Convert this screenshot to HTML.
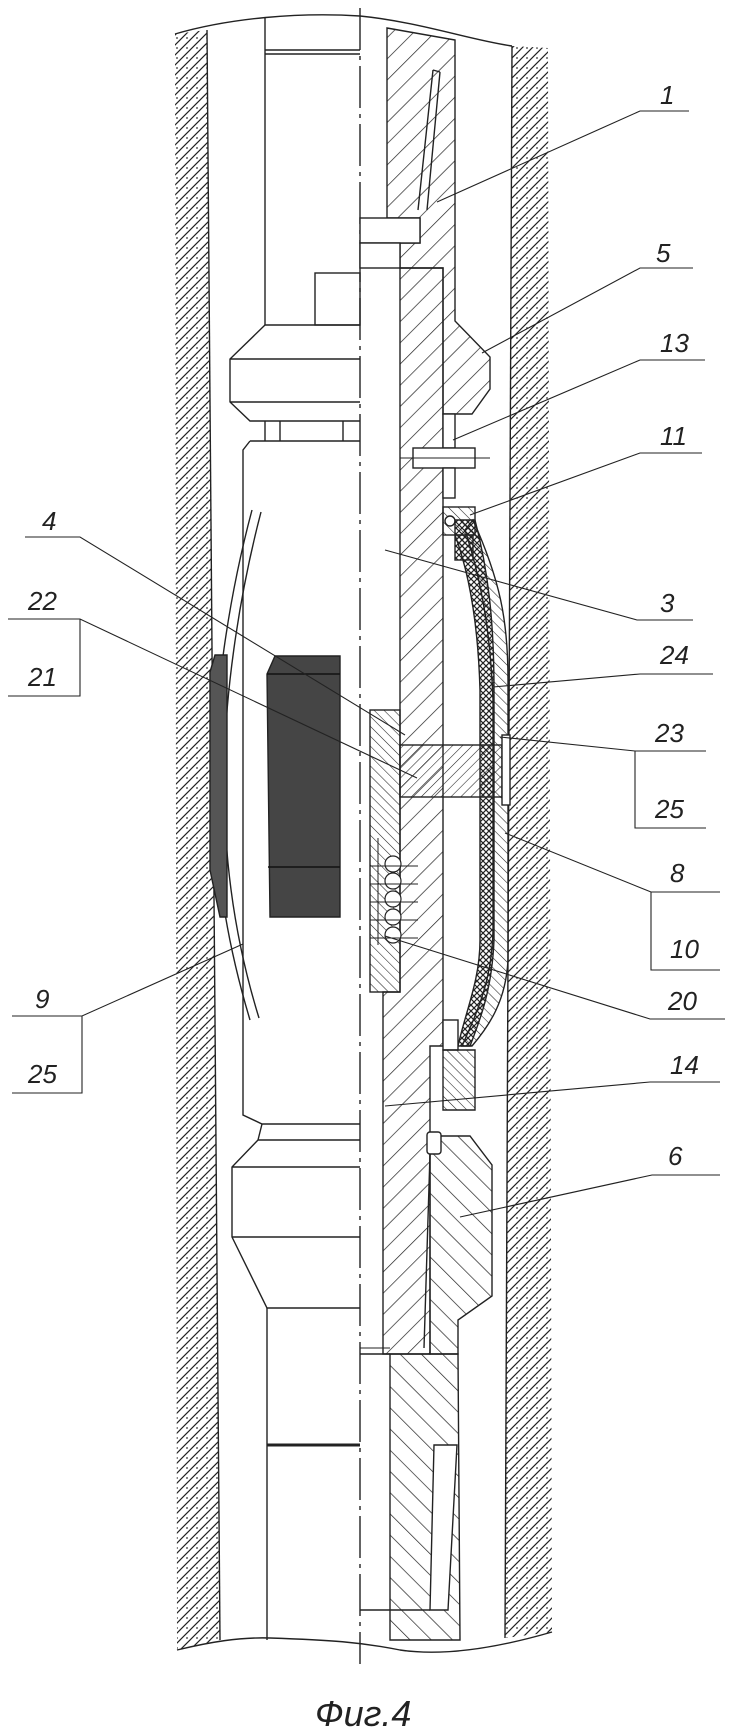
<!DOCTYPE html>
<html><head><meta charset="utf-8"><style>
html,body{margin:0;padding:0;background:#fff}
svg{display:block}
text{font-family:"Liberation Sans","DejaVu Sans",sans-serif;font-style:italic;fill:#222}
</style></head><body>
<svg width="736" height="1733" viewBox="0 0 736 1733" xmlns="http://www.w3.org/2000/svg">
<defs>
<pattern id="wall" patternUnits="userSpaceOnUse" width="10" height="10">
<line x1="0" y1="10" x2="10" y2="0" stroke="#222" stroke-width="1.2"/>
<line x1="-2" y1="2" x2="2" y2="-2" stroke="#222" stroke-width="1.2"/>
<line x1="8" y1="12" x2="12" y2="8" stroke="#222" stroke-width="1.2"/>
<circle cx="7" cy="8" r="0.9" fill="#333"/>
</pattern>
<pattern id="hb" patternUnits="userSpaceOnUse" width="15" height="15" patternTransform="rotate(45)">
<line x1="0" y1="0" x2="0" y2="15" stroke="#222" stroke-width="1.4"/></pattern>
<pattern id="hf" patternUnits="userSpaceOnUse" width="15" height="15" patternTransform="rotate(-45)">
<line x1="0" y1="0" x2="0" y2="15" stroke="#222" stroke-width="1.4"/></pattern>
<pattern id="hs" patternUnits="userSpaceOnUse" width="7" height="7" patternTransform="rotate(45)">
<line x1="0" y1="0" x2="0" y2="7" stroke="#222" stroke-width="1.1"/></pattern>
<pattern id="hs2" patternUnits="userSpaceOnUse" width="7" height="7" patternTransform="rotate(-45)">
<line x1="0" y1="0" x2="0" y2="7" stroke="#222" stroke-width="1.1"/></pattern>
<pattern id="xh" patternUnits="userSpaceOnUse" width="6" height="6">
<path d="M0 0L6 6M6 0L0 6" stroke="#222" stroke-width="1.2"/></pattern>
</defs>
<g stroke="#222" stroke-width="1.4" fill="none">
<!-- walls -->
<polygon points="175,34 207,30 220,1640 177,1650" fill="url(#wall)" stroke="none"/>
<line x1="207" y1="30" x2="220" y2="1640"/>
<polygon points="512,46 548,48 552,1632 505,1638" fill="url(#wall)" stroke="none"/>
<line x1="512" y1="46" x2="505" y2="1638"/>
<!-- top and bottom wavy edges -->
<path d="M175,34 C230,18 300,12 360,16 C420,22 470,40 512,46"/>
<path d="M177,1650 C210,1642 240,1637 270,1638 C330,1640 360,1642 400,1650 C440,1656 490,1650 552,1632"/>
<!-- centerline -->
<line x1="360" y1="8" x2="360" y2="1664" stroke-dasharray="42 6 4 6"/>
<!-- upper left tool -->
<path d="M265,18 L265,325 M265,50 L360,50 M265,54 L360,54"/>
<rect x="315" y="273" width="45" height="52"/>
<path d="M265,325 L360,325 M265,325 L230,359 L230,402 L250,421 L360,421 M230,359 L360,359 M230,402 L360,402"/>
<path d="M265,421 L265,441 M280,421 L280,441 M343,421 L343,441"/>
<path d="M250,441 L360,441 M250,441 L243,450 L243,1115 L262,1124 L360,1124"/>
<!-- bow spring -->
<path d="M252,510 C228,600 214,700 214,780 C214,880 232,960 250,1020"/>
<path d="M261,512 C238,600 224,700 224,780 C224,880 241,960 259,1018"/>
<!-- dark blocks -->
<path d="M275,656 L340,656 L340,917 L270,917 L267,674 Z" fill="#454545"/>
<path d="M267,674 L340,674 M268,867 L340,867" stroke="#111"/>
<path d="M215,655 L227,655 L227,917 L220,917 L210,870 L210,672 Z" fill="#555"/>
<!-- lower left tool -->
<path d="M262,1124 L258,1140 L360,1140 M258,1140 L232,1167 L232,1237 L267,1308 L360,1308 M232,1167 L360,1167 M232,1237 L360,1237"/>
<path d="M267,1308 L267,1640"/>
<line x1="267" y1="1445" x2="360" y2="1445" stroke-width="3"/>
<!-- upper sub 1 / 5 -->
<polygon points="387,28 455,40 455,321 490,357 490,389 472,414 443,414 443,268 400,268 400,243 420,243 420,218 387,218" fill="url(#hb)"/>
<path d="M433,70 L418,210 M440,72 L427,210 M433,70 L440,72" fill="#fff"/>
<rect x="360" y="218" width="60" height="25" fill="#fff"/>
<rect x="360" y="243" width="40" height="25" fill="#fff"/>
<!-- mandrel -->
<polygon points="400,268 443,268 443,1046 430,1046 430,1354 383,1354 383,992 400,992" fill="url(#hb)"/>
<!-- small parts 13, 11 -->
<rect x="443" y="414" width="12" height="34" fill="#fff"/>
<rect x="413" y="448" width="62" height="20" fill="#fff"/>
<line x1="400" y1="458" x2="490" y2="458" stroke-width="1"/>
<rect x="443" y="468" width="12" height="30" fill="#fff"/>
<rect x="443" y="507" width="32" height="28" fill="url(#hs2)"/>
<circle cx="450" cy="521" r="5" fill="#fff"/>
<rect x="455" y="535" width="18" height="25" fill="url(#xh)"/>
<!-- sleeve 8 (outer) and packer (crosshatch) -->
<path d="M473,520 C500,580 508,620 508,680 L508,960 C506,1000 490,1025 472,1046 L462,1046 C478,1010 492,980 493,930 L493,700 C490,620 478,570 465,530 Z" fill="url(#hs2)"/>
<path d="M455,520 L475,520 C488,570 494,620 494,690 L494,940 C492,990 480,1020 470,1046 L458,1046 C466,1010 480,980 480,940 L480,690 C478,620 468,570 455,535 Z" fill="url(#xh)"/>
<!-- pin 4 and sleeve 22 -->
<rect x="400" y="745" width="102" height="52" fill="url(#hs)"/>
<rect x="502" y="735" width="8" height="70" fill="#fff"/>
<rect x="370" y="710" width="30" height="282" fill="url(#hs2)"/>
<line x1="378" y1="838" x2="378" y2="945" stroke-width="1"/>
<g stroke-width="1.2" fill="#fff">
<circle cx="393" cy="864" r="8"/><circle cx="393" cy="881" r="8"/><circle cx="393" cy="899" r="8"/><circle cx="393" cy="917" r="8"/><circle cx="393" cy="935" r="8"/>
</g>
<path d="M370,866 L418,866 M370,884 L418,884 M370,902 L418,902 M370,920 L418,920 M370,938 L418,938" stroke-width="1"/>
<!-- ring near 14 -->
<rect x="443" y="1020" width="15" height="30" fill="#fff"/>
<polygon points="443,1050 475,1050 475,1110 443,1110" fill="url(#hs2)"/>
<!-- lower sub 6 -->
<polygon points="440,1136 470,1136 492,1165 492,1296 458,1320 458,1354 430,1354 430,1154" fill="url(#hf)"/>
<rect x="427" y="1132" width="14" height="22" rx="3" fill="#fff"/>
<line x1="430" y1="1154" x2="424" y2="1348"/>
<!-- bottom sub -->
<polygon points="390,1354 458,1354 460,1640 390,1640" fill="url(#hf)"/>
<polygon points="434,1445 457,1445 448,1610 430,1610" fill="#fff"/>
<path d="M360,1354 L390,1354 M360,1610 L430,1610"/>
<line x1="360" y1="1348" x2="390" y2="1348" stroke-width="1"/>
</g>
<!-- leaders -->
<g stroke="#222" stroke-width="1.1" fill="none">
<path d="M689,111 L640,111 L437,202"/>
<path d="M693,268 L640,268 L482,353"/>
<path d="M705,360 L640,360 L453,440"/>
<path d="M702,453 L640,453 L470,515"/>
<path d="M693,620 L637,620 L385,550"/>
<path d="M713,674 L640,674 L493,687"/>
<path d="M706,751 L635,751 L500,737 M635,751 L635,828 L706,828"/>
<path d="M720,892 L651,892 L505,833 M651,892 L651,970 L720,970"/>
<path d="M725,1019 L650,1019 L385,936"/>
<path d="M720,1082 L650,1082 L385,1106"/>
<path d="M720,1175 L652,1175 L460,1217"/>
<path d="M25,537 L80,537 L405,735"/>
<path d="M8,619 L80,619 L417,778 M80,619 L80,696 L8,696"/>
<path d="M12,1016 L82,1016 L243,944 M82,1016 L82,1093 L12,1093"/>
</g>
<g font-size="26">
<text x="660" y="104">1</text>
<text x="656" y="262">5</text>
<text x="660" y="352">13</text>
<text x="660" y="445">11</text>
<text x="660" y="612">3</text>
<text x="660" y="664">24</text>
<text x="655" y="742">23</text>
<text x="655" y="818">25</text>
<text x="670" y="882">8</text>
<text x="670" y="958">10</text>
<text x="668" y="1010">20</text>
<text x="670" y="1074">14</text>
<text x="668" y="1165">6</text>
<text x="42" y="530">4</text>
<text x="28" y="610">22</text>
<text x="28" y="686">21</text>
<text x="35" y="1008">9</text>
<text x="28" y="1083">25</text>
</g>
<text x="315" y="1726" font-size="36">Фиг.4</text>
</svg>
</body></html>
